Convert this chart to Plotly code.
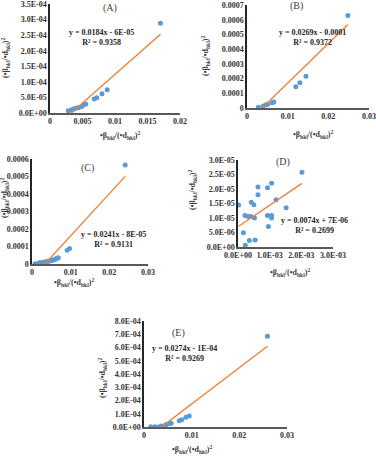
import plotly.graph_objects as go

# (A)
a_x = [0.0028, 0.0033, 0.0035, 0.0037, 0.0041, 0.0044, 0.0049, 0.0053, 0.0055, 0.0068, 0.0072, 0.0080, 0.0088, 0.0170]
a_y = [7e-6, 1.0e-5, 1.1e-5, 1.4e-5, 1.6e-5, 1.7e-5, 2.1e-5, 2.7e-5, 2.9e-5, 4.5e-5, 4.9e-5, 6.2e-5, 7.5e-5, 2.88e-4]
# (B)
b_x = [0.0028, 0.0040, 0.0047, 0.0051, 0.0062, 0.0066, 0.0120, 0.0130, 0.0145, 0.0248]
b_y = [5e-6, 1.4e-5, 2.2e-5, 2.5e-5, 3.6e-5, 4.1e-5, 1.45e-4, 1.72e-4, 2.15e-4, 6.28e-4]
# (C)
c_x = [0.0008, 0.0018, 0.0021, 0.0028, 0.0034, 0.0038, 0.0042, 0.0045, 0.0048, 0.0052,
       0.0055, 0.0059, 0.0062, 0.0065, 0.0068, 0.0091, 0.0097, 0.0241]
c_y = [1e-6, 5e-6, 7e-6, 1.0e-5, 1.1e-5, 1.3e-5, 1.5e-5, 1.7e-5, 1.9e-5, 2.1e-5,
       2.3e-5, 2.6e-5, 3.0e-5, 3.3e-5, 3.6e-5, 7.8e-5, 8.8e-5, 5.65e-4]
# (D)
d_x = [2e-5, 2.2e-4, 1.7e-4, 2.3e-4, 3.6e-4, 5.4e-4, 3.2e-4, 4.1e-4, 5.2e-4, 4.2e-4, 5.0e-4,
       6.3e-4, 6.3e-4, 9.3e-4, 1.06e-3, 9.3e-4, 1.06e-3, 1.06e-3, 9.6e-4, 1.2e-3, 1.52e-3, 2.02e-3]
d_y = [1.45e-5, 1.09e-5, 4.9e-6, 6e-7, 2.2e-6, 2.4e-6, 1.05e-5, 1.05e-5, 1.0e-5, 1.54e-5, 1.46e-5,
       2.07e-5, 1.8e-5, 2.04e-5, 2.2e-5, 1.09e-5, 1.09e-5, 1.0e-5, 7.1e-6, 1.63e-5, 1.35e-5, 2.58e-5]
# (E)
e_x = [0.0014, 0.0023, 0.0032, 0.0037, 0.0046, 0.0053, 0.0057, 0.0074, 0.0079, 0.0088, 0.0095, 0.0259]
e_y = [1e-6, 1e-6, 2e-6, 7.5e-6, 1.7e-5, 2.5e-5, 2.8e-5, 4.8e-5, 5.5e-5, 7.3e-5, 8.3e-5, 6.85e-4]

slopes = [0.0184, 0.0269, 0.0241, 0.0074, 0.0274]
intercepts = [-6e-5, -1e-4, -8e-5, 7e-6, -1e-4]
eq_text = ["y = 0.0184x - 6E-05", "y = 0.0269x - 0.0001", "y = 0.0241x - 8E-05",
           "y = 0.0074x + 7E-06", "y = 0.0274x - 1E-04"]
r2_text = ["R² = 0.9358", "R² = 0.9372", "R² = 0.9131", "R² = 0.2699", "R² = 0.9269"]
panel_labels = ["(A)", "(B)", "(C)", "(D)", "(E)"]

a_xticks = [0, 0.005, 0.01, 0.015, 0.02]
a_xtext = ["0", "0.005", "0.01", "0.015", "0.02"]
a_yticks = [0, 5e-5, 1e-4, 1.5e-4, 2e-4, 2.5e-4, 3e-4, 3.5e-4]
a_ytext = ["0.0E+00", "5.0E-05", "1.0E-04", "1.5E-04", "2.0E-04", "2.5E-04", "3.0E-04", "3.5E-04"]
b_xticks = [0, 0.01, 0.02, 0.03]
b_xtext = ["0", "0.01", "0.02", "0.03"]
b_yticks = [0, 1e-4, 2e-4, 3e-4, 4e-4, 5e-4, 6e-4, 7e-4]
b_ytext = ["0", "0.0001", "0.0002", "0.0003", "0.0004", "0.0005", "0.0006", "0.0007"]
c_yticks = [0, 1e-4, 2e-4, 3e-4, 4e-4, 5e-4, 6e-4]
c_ytext = ["0", "0.0001", "0.0002", "0.0003", "0.0004", "0.0005", "0.0006"]
d_xticks = [0, 1e-3, 2e-3, 3e-3]
d_xtext = ["0.0E+00", "1.0E-03", "2.0E-03", "3.0E-03"]
d_yticks = [0, 5e-6, 1e-5, 1.5e-5, 2e-5, 2.5e-5, 3e-5]
d_ytext = ["0.0E+00", "5.0E-06", "1.0E-05", "1.5E-05", "2.0E-05", "2.5E-05", "3.0E-05"]
e_yticks = [0, 1e-4, 2e-4, 3e-4, 4e-4, 5e-4, 6e-4, 7e-4, 8e-4]
e_ytext = ["0.0E+00", "1.0E-04", "2.0E-04", "3.0E-04", "4.0E-04", "5.0E-04", "6.0E-04", "7.0E-04", "8.0E-04"]

x_title = "•β<sub>hkl</sub>/(•d<sub>hkl</sub>)<sup>2</sup>"
y_title = "(•β<sub>hkl</sub>/•d<sub>hkl</sub>)<sup>2</sup>"

W, H = 376, 457
def px(v): return v / W
def py(v): return 1 - v / H

FONT = "Liberation Serif"
BLUE = "#5B9BD5"
ORANGE = "#ED7D31"

# pixel boxes of each plot area: left, right, top, bottom
boxes = [(50, 180, 4, 113), (247, 369, 5, 108), (32, 148, 159, 264), (238, 333, 160, 247), (144, 287, 321, 427)]
data = [(a_x, a_y), (b_x, b_y), (c_x, c_y), (d_x, d_y), (e_x, e_y)]
xt = [(a_xticks, a_xtext), (b_xticks, b_xtext), (b_xticks, b_xtext), (d_xticks, d_xtext), (b_xticks, b_xtext)]
yt = [(a_yticks, a_ytext), (b_yticks, b_ytext), (c_yticks, c_ytext), (d_yticks, d_ytext), (e_yticks, e_ytext)]
# label / equation / axis-title positions (px)
lab_pos = [(110, 8), (296, 6), (87, 168), (283, 162), (178, 333)]
eq_pos = [(101, 38), (312, 37), (113, 240), (314, 225), (184, 353)]
xt_pos = [(120, 136), (313, 134), (74, 282), (290, 272), (192, 449)]
yt_pos = [(6, 58), (205, 56), (4, 198), (193, 190), (102, 378)]

fig = go.Figure()
annos = []
for i in range(5):
    xs, ys = data[i]
    n = str(i + 1) if i else ""
    fig.add_trace(go.Scatter(x=xs, y=ys, mode="markers", xaxis="x" + n, yaxis="y" + n,
                             marker=dict(color=BLUE, size=5), showlegend=False))
    lx = [min(xs), max(xs)]
    ly = [slopes[i] * v + intercepts[i] for v in lx]
    fig.add_trace(go.Scatter(x=lx, y=ly, mode="lines", xaxis="x" + n, yaxis="y" + n,
                             line=dict(color=ORANGE, width=1.3), showlegend=False))
    l, r, t, b = boxes[i]
    ax = dict(domain=[px(l), px(r)], range=[xt[i][0][0], xt[i][0][-1]], tickvals=xt[i][0], ticktext=xt[i][1],
              showgrid=False, zeroline=False, showline=True, linecolor="#595959", linewidth=1.5,
              ticks="", tickfont=dict(family=FONT, size=8, color="#333", weight="bold"),
              anchor="y" + n, fixedrange=True, automargin=False, ticklabeloverflow="allow")
    ay = dict(domain=[py(b), py(t)], range=[yt[i][0][0], yt[i][0][-1]], tickvals=yt[i][0], ticktext=yt[i][1],
              showgrid=False, zeroline=False, showline=True, linecolor="#262626", linewidth=1.5,
              ticks="", tickfont=dict(family=FONT, size=8, color="#333", weight="bold"),
              anchor="x" + n, fixedrange=True, automargin=False, ticklabeloverflow="allow")
    fig.update_layout(**{"xaxis" + n: ax, "yaxis" + n: ay})
    annos.append(dict(x=px(lab_pos[i][0]), y=py(lab_pos[i][1]), text=panel_labels[i],
                      font=dict(size=10, color="#404040")))
    annos.append(dict(x=px(eq_pos[i][0]), y=py(eq_pos[i][1]), text=eq_text[i] + "<br>" + r2_text[i],
                      font=dict(size=8, color="#262626", weight="bold")))
    annos.append(dict(x=px(xt_pos[i][0]), y=py(xt_pos[i][1]), text=x_title,
                      font=dict(size=8, color="#404040", weight="bold")))
    annos.append(dict(x=px(yt_pos[i][0]), y=py(yt_pos[i][1]), text=y_title, textangle=-90,
                      font=dict(size=8, color="#404040", weight="bold")))

for a in annos:
    a.update(xref="paper", yref="paper", showarrow=False, xanchor="center", yanchor="middle")
    a["font"]["family"] = FONT

fig.update_layout(width=W, height=H, margin=dict(l=0, r=0, t=0, b=0),
                  paper_bgcolor="white", plot_bgcolor="white", annotations=annos)
# the page body has an 8px default margin; remove it so the figure sits at the window's corner
fig.write_html("out.html", config={"displayModeBar": False},
               post_script="document.body.style.margin='0';")
